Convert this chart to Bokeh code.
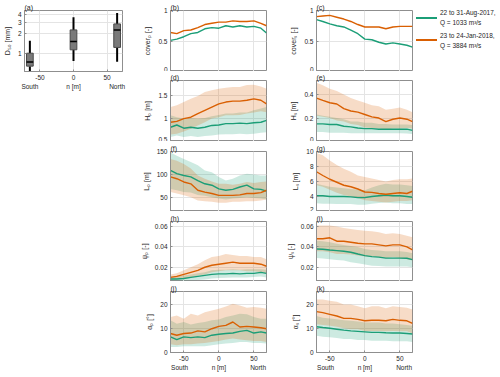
from bokeh.plotting import figure
from bokeh.layouts import row, column
from bokeh.models import FixedTicker, LinearAxis, Range1d, Div
from bokeh.embed import file_html
from bokeh.resources import INLINE

# ---------------- data ----------------
n = [-69, -60, -50, -40, -30, -20, -10, 0, 10, 20, 30, 40, 50, 60, 68]

# (a) D50 box plots
box_pos = [-65, 0, 65]
d50_min = [0.48, 0.76, 0.74]
d50_q1 = [0.63, 1.13, 1.23]
d50_med = [0.73, 1.52, 2.30]
d50_q3 = [1.00, 2.30, 2.85]
d50_max = [1.56, 3.63, 4.20]

# (b) cover_P
cover_p_aug = [0.51, 0.53, 0.57, 0.62, 0.64, 0.70, 0.72, 0.71, 0.75, 0.73, 0.75, 0.73, 0.74, 0.71, 0.63]
cover_p_jan = [0.64, 0.62, 0.67, 0.68, 0.72, 0.77, 0.79, 0.81, 0.81, 0.83, 0.82, 0.82, 0.83, 0.79, 0.75]
# (c) cover_S
cover_s_aug = [0.85, 0.82, 0.78, 0.75, 0.73, 0.68, 0.62, 0.53, 0.52, 0.48, 0.45, 0.47, 0.45, 0.43, 0.40]
cover_s_jan = [0.90, 0.91, 0.92, 0.89, 0.86, 0.82, 0.77, 0.73, 0.73, 0.73, 0.70, 0.73, 0.74, 0.74, 0.74]
# (d) H_P
hp_aug = [0.81, 0.86, 0.79, 0.81, 0.79, 0.81, 0.85, 0.86, 0.89, 0.89, 0.90, 0.89, 0.91, 0.92, 0.96]
hp_aug_lo = [0.60, 0.63, 0.60, 0.62, 0.60, 0.62, 0.63, 0.65, 0.66, 0.66, 0.67, 0.66, 0.67, 0.69, 0.70]
hp_aug_hi = [1.07, 1.03, 1.00, 1.01, 1.00, 1.01, 1.05, 1.08, 1.11, 1.11, 1.13, 1.13, 1.18, 1.22, 1.25]
hp_jan = [0.92, 0.94, 1.00, 1.03, 1.11, 1.18, 1.25, 1.32, 1.36, 1.38, 1.38, 1.40, 1.43, 1.40, 1.32]
hp_jan_lo = [0.65, 0.67, 0.72, 0.78, 0.85, 0.92, 1.00, 1.03, 1.07, 1.07, 1.08, 1.11, 1.13, 1.16, 1.14]
hp_jan_hi = [1.25, 1.29, 1.36, 1.43, 1.49, 1.58, 1.62, 1.65, 1.67, 1.69, 1.69, 1.73, 1.74, 1.70, 1.65]
# (e) H_S
hs_aug = [0.15, 0.15, 0.145, 0.145, 0.13, 0.125, 0.115, 0.11, 0.11, 0.105, 0.105, 0.105, 0.105, 0.105, 0.095]
hs_aug_lo = [0.08, 0.08, 0.075, 0.075, 0.075, 0.07, 0.07, 0.07, 0.07, 0.07, 0.07, 0.07, 0.07, 0.068, 0.065]
hs_aug_hi = [0.23, 0.22, 0.21, 0.20, 0.19, 0.17, 0.17, 0.16, 0.16, 0.15, 0.15, 0.145, 0.145, 0.145, 0.14]
hs_jan = [0.37, 0.35, 0.33, 0.32, 0.28, 0.26, 0.25, 0.23, 0.21, 0.20, 0.17, 0.19, 0.20, 0.19, 0.17]
hs_jan_lo = [0.22, 0.21, 0.20, 0.18, 0.17, 0.15, 0.14, 0.12, 0.115, 0.11, 0.10, 0.11, 0.11, 0.115, 0.11]
hs_jan_hi = [0.50, 0.48, 0.45, 0.43, 0.40, 0.37, 0.35, 0.33, 0.31, 0.30, 0.27, 0.28, 0.29, 0.27, 0.25]
# (f) L_P
lp_aug = [109, 102, 98, 95, 87, 80, 77, 69, 66, 68, 73, 77, 69, 68, 64]
lp_aug_lo = [69, 66, 62, 61, 56, 54, 51, 48, 46, 48, 49, 51, 49, 48, 46]
lp_aug_hi = [148, 141, 134, 127, 120, 109, 105, 95, 87, 91, 98, 102, 100, 98, 98]
lp_jan = [95, 91, 84, 80, 66, 62, 59, 55, 55, 55, 56, 59, 59, 61, 66]
lp_jan_lo = [62, 59, 55, 51, 44, 42, 41, 39, 39, 41, 41, 42, 42, 44, 46]
lp_jan_hi = [134, 130, 123, 113, 98, 91, 85, 80, 80, 78, 80, 84, 82, 84, 85]
# (g) L_S
ls_aug = [4.1, 4.1, 4.0, 4.0, 4.0, 3.95, 3.85, 3.85, 4.0, 4.1, 4.2, 4.1, 4.1, 4.0, 3.9]
ls_aug_lo = [3.1, 3.05, 3.05, 3.0, 3.0, 3.0, 2.9, 2.9, 3.05, 3.15, 3.2, 3.1, 3.1, 3.0, 3.0]
ls_aug_hi = [5.7, 5.5, 5.3, 5.2, 5.1, 5.0, 4.95, 4.85, 5.2, 5.5, 5.7, 5.6, 5.6, 5.5, 5.4]
ls_jan = [7.3, 6.8, 6.3, 5.9, 5.5, 5.3, 5.0, 4.6, 4.55, 4.4, 4.3, 4.4, 4.5, 4.4, 4.7]
ls_jan_lo = [5.5, 5.3, 4.9, 4.5, 4.2, 4.0, 3.8, 3.5, 3.4, 3.3, 3.2, 3.3, 3.4, 3.4, 3.5]
ls_jan_hi = [9.8, 9.5, 8.8, 8.2, 7.7, 7.3, 6.8, 6.6, 6.4, 6.2, 6.0, 6.2, 6.3, 6.3, 6.4]
# (h) psi_P
psip_aug = [0.0085, 0.0085, 0.009, 0.010, 0.011, 0.012, 0.013, 0.0135, 0.0135, 0.014, 0.0135, 0.014, 0.014, 0.015, 0.014]
psip_aug_lo = [0.007, 0.007, 0.007, 0.0072, 0.0075, 0.008, 0.009, 0.0095, 0.0098, 0.010, 0.010, 0.010, 0.0105, 0.011, 0.010]
psip_aug_hi = [0.011, 0.011, 0.012, 0.013, 0.014, 0.015, 0.017, 0.0175, 0.0175, 0.018, 0.0175, 0.018, 0.018, 0.018, 0.0175]
psip_jan = [0.010, 0.011, 0.013, 0.015, 0.017, 0.020, 0.022, 0.023, 0.024, 0.025, 0.024, 0.024, 0.024, 0.023, 0.021]
psip_jan_lo = [0.0075, 0.008, 0.0085, 0.010, 0.012, 0.013, 0.015, 0.016, 0.017, 0.017, 0.017, 0.016, 0.016, 0.015, 0.014]
psip_jan_hi = [0.013, 0.014, 0.017, 0.020, 0.023, 0.027, 0.030, 0.031, 0.033, 0.032, 0.031, 0.031, 0.030, 0.030, 0.028]
# (i) psi_S
psis_aug = [0.038, 0.0377, 0.037, 0.0364, 0.0357, 0.0348, 0.033, 0.0315, 0.0305, 0.030, 0.029, 0.029, 0.029, 0.0289, 0.0275]
psis_aug_lo = [0.029, 0.0285, 0.028, 0.0272, 0.0266, 0.025, 0.024, 0.0226, 0.0216, 0.0213, 0.0207, 0.0207, 0.0207, 0.0207, 0.020]
psis_aug_hi = [0.046, 0.0456, 0.0446, 0.043, 0.042, 0.041, 0.040, 0.038, 0.037, 0.0364, 0.0357, 0.0357, 0.0357, 0.035, 0.0338]
psis_jan = [0.048, 0.048, 0.049, 0.0456, 0.0456, 0.0446, 0.0436, 0.043, 0.043, 0.042, 0.041, 0.042, 0.042, 0.040, 0.037]
psis_jan_lo = [0.0357, 0.0357, 0.0348, 0.033, 0.033, 0.0325, 0.0315, 0.0305, 0.0305, 0.030, 0.029, 0.030, 0.029, 0.028, 0.0266]
psis_jan_hi = [0.061, 0.061, 0.061, 0.060, 0.0587, 0.0577, 0.0567, 0.056, 0.0554, 0.0544, 0.0528, 0.0534, 0.0528, 0.051, 0.0495]
# (j) alpha_P
alp_aug = [6.5, 5.4, 6.5, 6.2, 6.5, 6.2, 7.2, 7.6, 7.9, 8.1, 8.8, 9.2, 8.1, 8.6, 8.1]
alp_aug_lo = [2.3, 2.3, 2.6, 2.6, 2.6, 2.6, 3.0, 3.4, 3.7, 4.0, 4.4, 4.4, 4.0, 4.0, 3.7]
alp_aug_hi = [13.4, 12.0, 12.7, 11.7, 12.3, 12.7, 13.4, 13.7, 14.8, 15.4, 16.1, 15.9, 14.8, 14.1, 14.1]
alp_jan = [7.9, 7.2, 7.9, 8.1, 9.0, 8.6, 9.9, 10.9, 11.3, 12.7, 10.6, 10.9, 10.6, 10.3, 9.9]
alp_jan_lo = [3.4, 3.0, 3.4, 3.4, 3.7, 4.0, 4.4, 4.8, 5.4, 5.8, 5.4, 5.1, 4.8, 4.8, 4.4]
alp_jan_hi = [14.8, 15.4, 14.1, 16.1, 15.4, 16.8, 17.5, 18.2, 19.2, 20.3, 19.6, 18.6, 18.9, 18.6, 18.2]
# (k) alpha_S
als_aug = [10.7, 10.4, 10.1, 9.7, 9.3, 9.0, 8.8, 8.6, 8.4, 8.4, 8.2, 8.1, 8.1, 7.9, 7.7]
als_aug_lo = [7.0, 6.6, 6.3, 6.0, 5.6, 5.6, 5.2, 5.2, 4.9, 4.9, 4.9, 4.7, 4.7, 4.7, 4.4]
als_aug_hi = [15.2, 14.5, 14.2, 13.8, 13.4, 13.2, 12.9, 12.5, 12.5, 12.5, 12.1, 12.1, 11.8, 11.5, 11.1]
als_jan = [17.0, 16.6, 15.9, 15.2, 14.2, 14.2, 13.8, 13.2, 13.4, 13.4, 13.2, 13.8, 13.4, 13.2, 12.1]
als_jan_lo = [11.8, 11.5, 11.1, 10.7, 10.1, 9.7, 9.7, 9.0, 9.0, 9.0, 8.8, 9.0, 8.8, 8.8, 7.9]
als_jan_hi = [22.1, 22.1, 21.6, 21.1, 20.0, 20.0, 19.3, 18.4, 19.3, 19.3, 18.4, 19.3, 18.9, 18.6, 17.9]

x_ticks = [-50, 0, 50]
dir_ticks_a = [-65, 0, 65]
dir_ticks = [-56, 0, 56]
dir_labels = ["South", "n [m]", "North"]
legend_labels = [["22 to 31-Aug-2017,", "Q = 1033 m\u00b3/s"],
                 ["23 to 24-Jan-2018,", "Q = 3884 m\u00b3/s"]]

# ---------------- style ----------------
FONT = "Liberation Sans"
GREEN = "#1b9e77"
ORANGE = "#d95f02"
FRAME = "#8f8f8f"
GRID = "#e4e4e4"
TXT = "#262626"
TICK_FS = "6.5px"
LAB_FS = "7px"
X_RANGE = (-69, 68)


def fmt(t):
    return "%g" % t


def style_axis(ax):
    ax.axis_line_color = FRAME
    ax.major_tick_line_color = FRAME
    ax.major_tick_in = 2
    ax.major_tick_out = 0
    ax.minor_tick_line_color = None
    ax.major_label_text_font = FONT
    ax.major_label_text_font_size = TICK_FS
    ax.major_label_text_color = TXT
    ax.major_label_standoff = 3
    ax.axis_label_text_font = FONT
    ax.axis_label_text_font_size = LAB_FS
    ax.axis_label_text_font_style = "normal"
    ax.axis_label_text_color = TXT
    ax.axis_label_standoff = 4


def panel(label, ylabel, yr, yticks, width, left, right, top, frame_h, bottom,
          xr=X_RANGE, xaxis=False, ylog=False, dticks=None):
    p = figure(width=width, height=top + frame_h + bottom,
               x_range=Range1d(*xr), y_range=Range1d(*yr),
               y_axis_type="log" if ylog else "linear",
               x_axis_location="below" if xaxis else None,
               output_backend="svg", toolbar_location=None,
               min_border_left=left, min_border_right=right,
               min_border_top=top, min_border_bottom=bottom)
    p.outline_line_color = FRAME
    p.outline_line_width = 1
    p.background_fill_color = "white"
    p.border_fill_color = "white"
    p.title.text = label
    p.title.text_font = FONT
    p.title.text_font_size = LAB_FS
    p.title.text_font_style = "normal"
    p.title.text_color = TXT
    p.title.standoff = 0
    yax = p.yaxis[0]
    yax.ticker = FixedTicker(ticks=yticks)
    yax.major_label_overrides = {t: fmt(t) for t in yticks}
    yax.axis_label = ylabel
    style_axis(yax)
    p.xgrid.ticker = FixedTicker(ticks=x_ticks)
    p.grid.grid_line_color = GRID
    p.grid.grid_line_width = 1
    if xaxis:
        xax = p.xaxis[0]
        xax.ticker = FixedTicker(ticks=x_ticks)
        xax.major_label_overrides = {t: fmt(t) for t in x_ticks}
        style_axis(xax)
        ax2 = LinearAxis(ticker=FixedTicker(ticks=dticks),
                         major_label_overrides={t: s for t, s in zip(dticks, dir_labels)})
        style_axis(ax2)
        ax2.axis_line_color = None
        ax2.major_tick_line_color = None
        ax2.major_label_standoff = 0
        p.add_layout(ax2, "below")
    return p


def series(p, aug, jan, aug_lo=None, aug_hi=None, jan_lo=None, jan_hi=None):
    if aug_lo is not None:
        p.varea(x=n, y1=aug_lo, y2=aug_hi, fill_color=GREEN, fill_alpha=0.22)
        p.varea(x=n, y1=jan_lo, y2=jan_hi, fill_color=ORANGE, fill_alpha=0.22)
    p.line(n, aug, line_color=GREEN, line_width=1.4)
    p.line(n, jan, line_color=ORANGE, line_width=1.4)


# rows: (top border, frame height, bottom border)
ROWS = [(10, 61, 0), (9, 61, 0), (10, 60, 0), (10, 60, 0), (10, 61, 24)]
CB = (145, 35, 14)
CC = (134, 36, 2)

# ---- column A ----
pa = panel("(a)", "D\u2085\u2080 [mm]", (0.52, 4.6), [1, 2, 3, 4], 135, 23, 13, 10, 61, 24,
           xr=(-73, 73), xaxis=True, ylog=True, dticks=dir_ticks_a)
half = 5
pa.segment(x0=box_pos, y0=d50_min, x1=box_pos, y1=d50_q1, line_color="black", line_width=2)
pa.segment(x0=box_pos, y0=d50_q3, x1=box_pos, y1=d50_max, line_color="black", line_width=2)
pa.vbar(x=box_pos, width=2 * half, bottom=d50_q1, top=d50_q3, fill_color="#7a7a7a",
        line_color="#4a4a4a", line_width=1)
pa.segment(x0=[x - half for x in box_pos], y0=d50_med, x1=[x + half for x in box_pos],
           y1=d50_med, line_color="black", line_width=1.5)

# ---- columns B and C ----
specs_b = [
    ("(b)", "cover\u209a [-]", (0, 1), [0, 0.5, 1], (cover_p_aug, cover_p_jan)),
    ("(d)", "H\u209a [m]", (0.5, 1.83), [0.5, 1, 1.5], (hp_aug, hp_jan, hp_aug_lo, hp_aug_hi, hp_jan_lo, hp_jan_hi)),
    ("(f)", "L\u209a [m]", (20, 150), [50, 100, 150], (lp_aug, lp_jan, lp_aug_lo, lp_aug_hi, lp_jan_lo, lp_jan_hi)),
    ("(h)", "\u03c8\u209a [-]", (0.006, 0.065), [0.02, 0.04, 0.06], (psip_aug, psip_jan, psip_aug_lo, psip_aug_hi, psip_jan_lo, psip_jan_hi)),
    ("(j)", "\u03b1\u209a [\u00b0]", (0, 25.4), [0, 10, 20], (alp_aug, alp_jan, alp_aug_lo, alp_aug_hi, alp_jan_lo, alp_jan_hi)),
]
specs_c = [
    ("(c)", "cover\u209b [-]", (0, 1), [0, 0.5, 1], (cover_s_aug, cover_s_jan)),
    ("(e)", "H\u209b [m]", (0, 0.52), [0, 0.2, 0.4], (hs_aug, hs_jan, hs_aug_lo, hs_aug_hi, hs_jan_lo, hs_jan_hi)),
    ("(g)", "L\u209b [m]", (2, 10), [2, 4, 6, 8, 10], (ls_aug, ls_jan, ls_aug_lo, ls_aug_hi, ls_jan_lo, ls_jan_hi)),
    ("(i)", "\u03c8\u209b [-]", (0.006, 0.065), [0.02, 0.04, 0.06], (psis_aug, psis_jan, psis_aug_lo, psis_aug_hi, psis_jan_lo, psis_jan_hi)),
    ("(k)", "\u03b1\u209b [\u00b0]", (0, 25.4), [0, 10, 20], (als_aug, als_jan, als_aug_lo, als_aug_hi, als_jan_lo, als_jan_hi)),
]


def build_column(specs, geom):
    figs = []
    for i, (lab, yl, yr, yt, data) in enumerate(specs):
        top, fh, bot = ROWS[i]
        last = i == len(specs) - 1
        p = panel(lab, yl, yr, yt, geom[0], geom[1], geom[2], top, fh, bot,
                  xaxis=last, dticks=dir_ticks)
        series(p, *data)
        figs.append(p)
    return column(*figs)


col_b = build_column(specs_b, CB)
col_c = build_column(specs_c, CC)

# ---- legend (HTML text) ----
def legend_entry(color, lines, line_top, text_top):
    return (
        f'<div style="position:absolute;left:2px;top:{line_top}px;width:21px;'
        f'height:2px;background-color:{color};"></div>'
        f'<div style="position:absolute;left:26px;top:{text_top}px;line-height:10px;'
        f'white-space:nowrap;">{lines[0]}<br>{lines[1]}</div>'
    )


legend_html = (
    f'<div style="position:relative;width:86px;height:60px;font-family:\'{FONT}\';'
    f'font-size:6.5px;color:{TXT};">'
    + legend_entry(GREEN, legend_labels[0], 17, 8)
    + legend_entry(ORANGE, legend_labels[1], 39, 31)
    + '</div>'
)
leg = Div(text=legend_html, width=86, height=60, margin=0)

root = row(pa, col_b, col_c, leg)

with open("out.html", "w") as f:
    f.write(file_html(root, INLINE))
